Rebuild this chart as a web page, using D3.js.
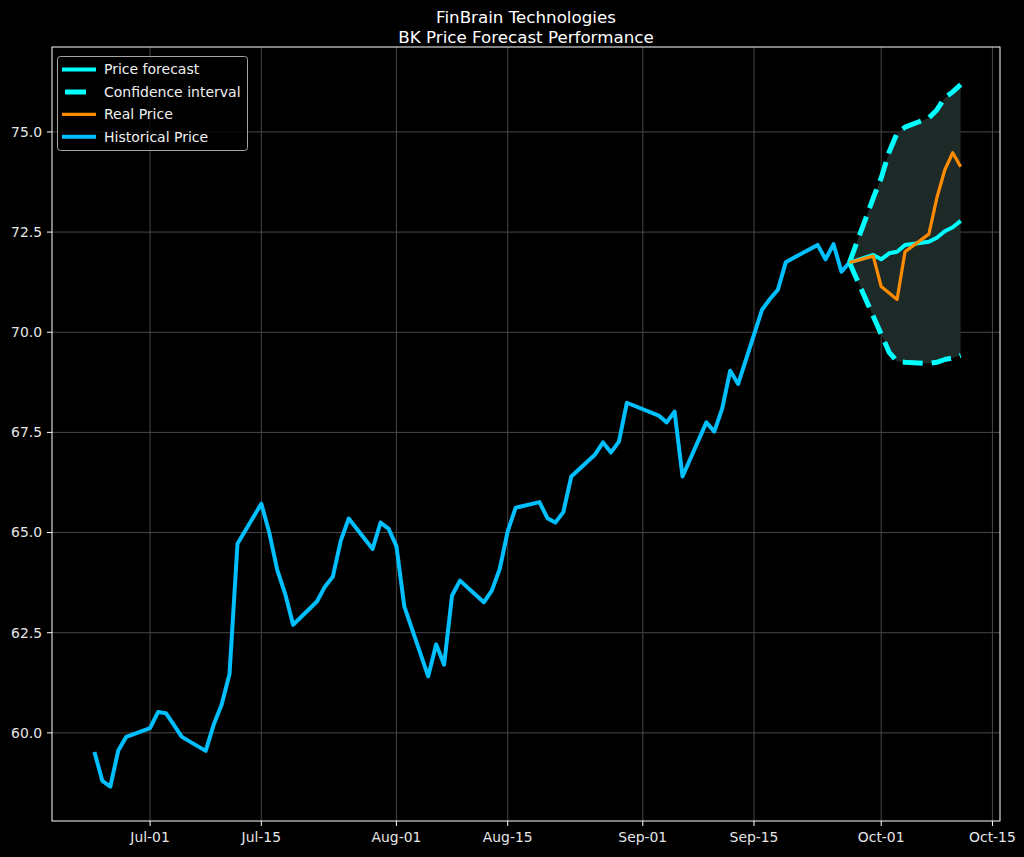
<!DOCTYPE html>
<html>
<head>
<meta charset="utf-8">
<script src="https://cdn.jsdelivr.net/npm/d3@7"></script>
<style>
  html, body { margin: 0; padding: 0; background: #000; }
  svg { display: block; }
  text { font-family: "DejaVu Sans", sans-serif; }
</style>
</head>
<body>
<svg id="chart" width="1024" height="857"></svg>
<script>
// ---------- data ----------
const historicalDates = [
  "2019-06-24","2019-06-25","2019-06-26","2019-06-27","2019-06-28",
  "2019-07-01","2019-07-02","2019-07-03","2019-07-05",
  "2019-07-08","2019-07-09","2019-07-10","2019-07-11","2019-07-12",
  "2019-07-15","2019-07-16","2019-07-17","2019-07-18","2019-07-19",
  "2019-07-22","2019-07-23","2019-07-24","2019-07-25","2019-07-26",
  "2019-07-29","2019-07-30","2019-07-31","2019-08-01","2019-08-02",
  "2019-08-05","2019-08-06","2019-08-07","2019-08-08","2019-08-09",
  "2019-08-12","2019-08-13","2019-08-14","2019-08-15","2019-08-16",
  "2019-08-19","2019-08-20","2019-08-21","2019-08-22","2019-08-23",
  "2019-08-26","2019-08-27","2019-08-28","2019-08-29","2019-08-30",
  "2019-09-03","2019-09-04","2019-09-05","2019-09-06",
  "2019-09-09","2019-09-10","2019-09-11","2019-09-12","2019-09-13",
  "2019-09-16","2019-09-17","2019-09-18","2019-09-19","2019-09-20",
  "2019-09-23","2019-09-24","2019-09-25","2019-09-26","2019-09-27"
];
const historicalPrice = [
  59.52, 58.80, 58.66, 59.56, 59.90,
  60.12, 60.52, 60.49, 59.90,
  59.55, 60.20, 60.70, 61.47, 64.72,
  65.72, 65.00, 64.07, 63.47, 62.70,
  63.28, 63.65, 63.90, 64.80, 65.35,
  64.59, 65.25, 65.10, 64.66, 63.15,
  61.41, 62.21, 61.70, 63.43, 63.80,
  63.26, 63.55, 64.09, 65.03, 65.62,
  65.76, 65.36, 65.25, 65.51, 66.40,
  66.95, 67.25, 67.00, 67.27, 68.24,
  67.92, 67.75, 68.02, 66.40,
  67.75, 67.52, 68.10, 69.04, 68.71,
  70.56, 70.83, 71.06, 71.75, 71.86,
  72.18, 71.82, 72.20, 71.51, 71.74
];

const forecastDates = [
  "2019-09-27","2019-09-30","2019-10-01","2019-10-02","2019-10-03",
  "2019-10-04","2019-10-07","2019-10-08","2019-10-09","2019-10-10","2019-10-11"
];
const priceForecast = [71.74, 71.93, 71.82, 71.97, 72.01, 72.18, 72.26, 72.36, 72.52, 72.62, 72.78];
const upperBound    = [71.74, 73.35, 73.85, 74.50, 74.97, 75.12, 75.35, 75.55, 75.85, 76.00, 76.18];
const lowerBound    = [71.74, 70.40, 69.95, 69.50, 69.27, 69.25, 69.22, 69.25, 69.32, 69.36, 69.42];
const realPrice     = [71.74, 71.90, 71.14, 70.98, 70.82, 72.01, 72.45, 73.35, 74.05, 74.48, 74.13];

const xTickDates  = ["2019-07-01","2019-07-15","2019-08-01","2019-08-15","2019-09-01","2019-09-15","2019-10-01","2019-10-15"];
const xTickLabels = ["Jul-01","Jul-15","Aug-01","Aug-15","Sep-01","Sep-15","Oct-01","Oct-15"];
const yTicks      = [60.0, 62.5, 65.0, 67.5, 70.0, 72.5, 75.0];

const titleLines = ["FinBrain Technologies", "BK Price Forecast Performance"];
const legendLabels = ["Price forecast", "Confidence interval", "Real Price", "Historical Price"];

// ---------- layout ----------
const W = 1024, H = 857;
const m = { left: 52, right: 1000, top: 47, bottom: 821 };
const parse = d3.utcParse("%Y-%m-%d");
const DAY = 86400000;

const x = d3.scaleUtc()
  .domain([new Date(parse("2019-06-24").getTime() - 5.34 * DAY),
           new Date(parse("2019-10-11").getTime() + 4.95 * DAY)])
  .range([m.left, m.right]);
const y = d3.scaleLinear().domain([57.80, 77.12]).range([m.bottom, m.top]);

const svg = d3.select("#chart");
svg.append("rect").attr("width", W).attr("height", H).attr("fill", "#000");

const gridColor = "#474747";
const g = svg.append("g");

// grid
const xTickVals = xTickDates.map(parse);
g.selectAll(".gx").data(xTickVals).enter().append("line")
  .attr("x1", d => x(d)).attr("x2", d => x(d))
  .attr("y1", m.top).attr("y2", m.bottom)
  .attr("stroke", gridColor).attr("stroke-width", 1);
g.selectAll(".gy").data(yTicks).enter().append("line")
  .attr("x1", m.left).attr("x2", m.right)
  .attr("y1", d => y(d)).attr("y2", d => y(d))
  .attr("stroke", gridColor).attr("stroke-width", 1);

// series
const hist = historicalDates.map((d, i) => ({ d: parse(d), v: historicalPrice[i] }));
const fc = forecastDates.map((d, i) => ({
  d: parse(d), f: priceForecast[i], u: upperBound[i], l: lowerBound[i], r: realPrice[i]
}));

svg.append("clipPath").attr("id", "clip").append("rect")
  .attr("x", m.left).attr("y", m.top).attr("width", m.right - m.left).attr("height", m.bottom - m.top);
const plot = svg.append("g").attr("clip-path", "url(#clip)");

plot.append("path").datum(fc)
  .attr("d", d3.area().x(d => x(d.d)).y0(d => y(d.l)).y1(d => y(d.u)))
  .attr("fill", "#1e2a27");

const line = (acc) => d3.line().x(d => x(d.d)).y(acc);

plot.append("path").datum(hist)
  .attr("d", line(d => y(d.v)))
  .attr("fill", "none").attr("stroke", "#00bfff").attr("stroke-width", 4)
  .attr("stroke-linejoin", "round").attr("stroke-linecap", "butt");

plot.append("path").datum(fc)
  .attr("d", line(d => y(d.f)))
  .attr("fill", "none").attr("stroke", "#00ffff").attr("stroke-width", 4)
  .attr("stroke-linejoin", "round");

[d => y(d.u), d => y(d.l)].forEach(acc => {
  plot.append("path").datum(fc)
    .attr("d", line(acc))
    .attr("fill", "none").attr("stroke", "#00ffff").attr("stroke-width", 5)
    .attr("stroke-dasharray", "20,9").attr("stroke-linejoin", "round");
});

plot.append("path").datum(fc)
  .attr("d", line(d => y(d.r)))
  .attr("fill", "none").attr("stroke", "#ff8c00").attr("stroke-width", 3.2)
  .attr("stroke-linejoin", "round");

// spines
svg.append("rect")
  .attr("x", m.left).attr("y", m.top)
  .attr("width", m.right - m.left).attr("height", m.bottom - m.top)
  .attr("fill", "none").attr("stroke", "#ffffff").attr("stroke-width", 1);

// axes ticks
const tickColor = "#ffffff";
const labelColor = "#e6e6e6";
const xt = svg.append("g");
xt.selectAll("line").data(xTickVals).enter().append("line")
  .attr("x1", d => x(d)).attr("x2", d => x(d))
  .attr("y1", m.bottom).attr("y2", m.bottom + 5)
  .attr("stroke", tickColor).attr("stroke-width", 1);
xt.selectAll("text").data(xTickVals).enter().append("text")
  .attr("x", d => x(d)).attr("y", m.bottom + 10).attr("dy", "0.76em")
  .attr("text-anchor", "middle").attr("font-size", 13.9).attr("fill", labelColor)
  .text((d, i) => xTickLabels[i]);

const yt = svg.append("g");
yt.selectAll("line").data(yTicks).enter().append("line")
  .attr("x1", m.left - 5).attr("x2", m.left)
  .attr("y1", d => y(d)).attr("y2", d => y(d))
  .attr("stroke", tickColor).attr("stroke-width", 1);
yt.selectAll("text").data(yTicks).enter().append("text")
  .attr("x", m.left - 10).attr("y", d => y(d)).attr("dy", "0.35em")
  .attr("text-anchor", "end").attr("font-size", 13.9).attr("fill", labelColor)
  .text(d => d3.format(".1f")(d));

// title
svg.selectAll(".title").data(titleLines).enter().append("text")
  .attr("x", (m.left + m.right) / 2).attr("y", (d, i) => 23 + i * 19.5)
  .attr("text-anchor", "middle").attr("font-size", 16.7).attr("fill", "#ffffff")
  .text(d => d);

// legend
const lg = svg.append("g");
lg.append("rect").attr("x", 57.5).attr("y", 56.5).attr("width", 190).attr("height", 94)
  .attr("rx", 3).attr("fill", "rgba(0,0,0,0.8)").attr("stroke", "#cccccc").attr("stroke-opacity", 0.8);
const legendStyles = [
  { c: "#00ffff", w: 4, dash: null },
  { c: "#00ffff", w: 5, dash: "20,9" },
  { c: "#ff8c00", w: 3.2, dash: null },
  { c: "#00bfff", w: 4, dash: null }
];
legendLabels.forEach((lab, i) => {
  const yy = 69.5 + i * 22.4;
  lg.append("line").attr("x1", 62).attr("x2", 96).attr("y1", yy).attr("y2", yy)
    .attr("stroke", legendStyles[i].c).attr("stroke-width", legendStyles[i].w)
    .attr("stroke-dasharray", legendStyles[i].dash ? "0,3,21,20" : null);
  lg.append("text").attr("x", 104).attr("y", yy).attr("dy", "0.35em")
    .attr("font-size", 14).attr("fill", "#f0f0f0").text(lab);
});
</script>
</body>
</html>
